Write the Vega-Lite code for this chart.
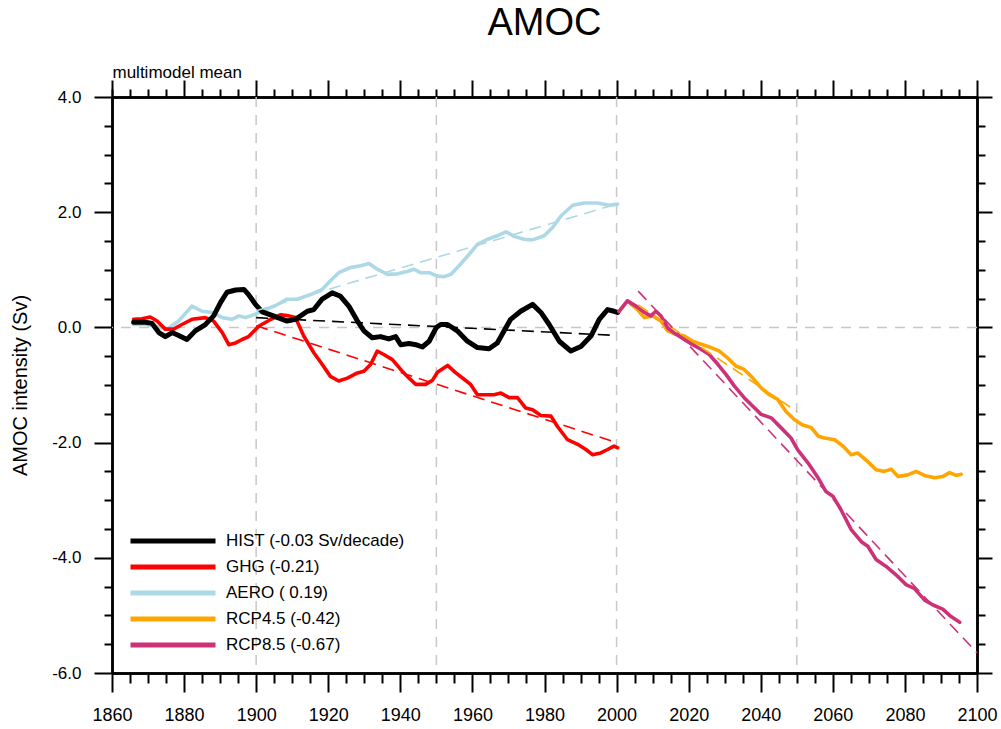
{
  "$schema": "https://vega.github.io/schema/vega-lite/v6.json",
  "autosize": {"type": "none"},
  "padding": {"left": 112, "top": 97, "right": 24, "bottom": 55},
  "width": 865,
  "height": 576,
  "background": "white",
  "title": {"text": "AMOC", "fontSize": 38, "font": "Liberation Sans", "fontWeight": "normal", "anchor": "middle", "frame": "group", "offset": 20, "color": "black"},
  "config": {
    "view": {"stroke": null},
    "axis": {"domainColor": "black", "domainWidth": 2.5, "tickColor": "black", "tickWidth": 2, "grid": false, "labelFont": "Liberation Sans", "titleFont": "Liberation Sans", "labelColor": "black", "titleColor": "black", "titleFontWeight": "normal"},
    "legend": {"padding": 0}
  },
  "datasets": {
    "grid_x": [{"year": 1900}, {"year": 1950}, {"year": 2000}, {"year": 2050}],
    "grid_y": [{"value": 0}],
    "hist": [
      {"series": "AERO ( 0.19)", "year": 1866, "value": 0.05},
      {"series": "AERO ( 0.19)", "year": 1869.3, "value": 0.05},
      {"series": "AERO ( 0.19)", "year": 1872, "value": 0.02},
      {"series": "AERO ( 0.19)", "year": 1875.3, "value": -0.03},
      {"series": "AERO ( 0.19)", "year": 1878.5, "value": 0.11},
      {"series": "AERO ( 0.19)", "year": 1882.2, "value": 0.37},
      {"series": "AERO ( 0.19)", "year": 1885, "value": 0.28},
      {"series": "AERO ( 0.19)", "year": 1887.8, "value": 0.26},
      {"series": "AERO ( 0.19)", "year": 1890.6, "value": 0.17},
      {"series": "AERO ( 0.19)", "year": 1893.3, "value": 0.14},
      {"series": "AERO ( 0.19)", "year": 1895.2, "value": 0.2},
      {"series": "AERO ( 0.19)", "year": 1897, "value": 0.17},
      {"series": "AERO ( 0.19)", "year": 1899.8, "value": 0.23},
      {"series": "AERO ( 0.19)", "year": 1902.6, "value": 0.31},
      {"series": "AERO ( 0.19)", "year": 1905.4, "value": 0.38},
      {"series": "AERO ( 0.19)", "year": 1908.6, "value": 0.49},
      {"series": "AERO ( 0.19)", "year": 1911.4, "value": 0.49},
      {"series": "AERO ( 0.19)", "year": 1915.1, "value": 0.57},
      {"series": "AERO ( 0.19)", "year": 1918.3, "value": 0.66},
      {"series": "AERO ( 0.19)", "year": 1920.6, "value": 0.81},
      {"series": "AERO ( 0.19)", "year": 1922.9, "value": 0.95},
      {"series": "AERO ( 0.19)", "year": 1926.2, "value": 1.04},
      {"series": "AERO ( 0.19)", "year": 1929, "value": 1.07},
      {"series": "AERO ( 0.19)", "year": 1931.3, "value": 1.11},
      {"series": "AERO ( 0.19)", "year": 1933.6, "value": 1.01},
      {"series": "AERO ( 0.19)", "year": 1936.4, "value": 0.92},
      {"series": "AERO ( 0.19)", "year": 1939.2, "value": 0.93},
      {"series": "AERO ( 0.19)", "year": 1941.9, "value": 0.97},
      {"series": "AERO ( 0.19)", "year": 1943.8, "value": 1.01},
      {"series": "AERO ( 0.19)", "year": 1945.6, "value": 0.95},
      {"series": "AERO ( 0.19)", "year": 1948, "value": 0.95},
      {"series": "AERO ( 0.19)", "year": 1950.3, "value": 0.89},
      {"series": "AERO ( 0.19)", "year": 1952.1, "value": 0.88},
      {"series": "AERO ( 0.19)", "year": 1954, "value": 0.92},
      {"series": "AERO ( 0.19)", "year": 1956.3, "value": 1.07},
      {"series": "AERO ( 0.19)", "year": 1959.1, "value": 1.27},
      {"series": "AERO ( 0.19)", "year": 1961.4, "value": 1.44},
      {"series": "AERO ( 0.19)", "year": 1964.2, "value": 1.53},
      {"series": "AERO ( 0.19)", "year": 1966.9, "value": 1.59},
      {"series": "AERO ( 0.19)", "year": 1969.3, "value": 1.66},
      {"series": "AERO ( 0.19)", "year": 1971.6, "value": 1.58},
      {"series": "AERO ( 0.19)", "year": 1974.3, "value": 1.53},
      {"series": "AERO ( 0.19)", "year": 1976.7, "value": 1.52},
      {"series": "AERO ( 0.19)", "year": 1979.9, "value": 1.59},
      {"series": "AERO ( 0.19)", "year": 1982.2, "value": 1.73},
      {"series": "AERO ( 0.19)", "year": 1984.5, "value": 1.93},
      {"series": "AERO ( 0.19)", "year": 1987.8, "value": 2.12},
      {"series": "AERO ( 0.19)", "year": 1991, "value": 2.16},
      {"series": "AERO ( 0.19)", "year": 1994.7, "value": 2.16},
      {"series": "AERO ( 0.19)", "year": 1997.9, "value": 2.12},
      {"series": "AERO ( 0.19)", "year": 2000.3, "value": 2.14},
      {"series": "GHG (-0.21)", "year": 1866, "value": 0.14},
      {"series": "GHG (-0.21)", "year": 1868.3, "value": 0.15},
      {"series": "GHG (-0.21)", "year": 1870.6, "value": 0.18},
      {"series": "GHG (-0.21)", "year": 1872.5, "value": 0.11},
      {"series": "GHG (-0.21)", "year": 1874.8, "value": -0.03},
      {"series": "GHG (-0.21)", "year": 1877.1, "value": -0.03},
      {"series": "GHG (-0.21)", "year": 1879.4, "value": 0.05},
      {"series": "GHG (-0.21)", "year": 1882.2, "value": 0.14},
      {"series": "GHG (-0.21)", "year": 1885.9, "value": 0.17},
      {"series": "GHG (-0.21)", "year": 1888.2, "value": 0.11},
      {"series": "GHG (-0.21)", "year": 1890.6, "value": -0.09},
      {"series": "GHG (-0.21)", "year": 1892.4, "value": -0.3},
      {"series": "GHG (-0.21)", "year": 1894.3, "value": -0.27},
      {"series": "GHG (-0.21)", "year": 1896.1, "value": -0.21},
      {"series": "GHG (-0.21)", "year": 1897.9, "value": -0.16},
      {"series": "GHG (-0.21)", "year": 1900.7, "value": 0.02},
      {"series": "GHG (-0.21)", "year": 1903.5, "value": 0.12},
      {"series": "GHG (-0.21)", "year": 1906.8, "value": 0.22},
      {"series": "GHG (-0.21)", "year": 1909.1, "value": 0.2},
      {"series": "GHG (-0.21)", "year": 1910.9, "value": 0.17},
      {"series": "GHG (-0.21)", "year": 1913.2, "value": -0.15},
      {"series": "GHG (-0.21)", "year": 1916, "value": -0.44},
      {"series": "GHG (-0.21)", "year": 1918.3, "value": -0.64},
      {"series": "GHG (-0.21)", "year": 1920.6, "value": -0.85},
      {"series": "GHG (-0.21)", "year": 1922.9, "value": -0.93},
      {"series": "GHG (-0.21)", "year": 1925.3, "value": -0.88},
      {"series": "GHG (-0.21)", "year": 1928.1, "value": -0.79},
      {"series": "GHG (-0.21)", "year": 1929.9, "value": -0.76},
      {"series": "GHG (-0.21)", "year": 1931.8, "value": -0.64},
      {"series": "GHG (-0.21)", "year": 1933.6, "value": -0.41},
      {"series": "GHG (-0.21)", "year": 1935.4, "value": -0.47},
      {"series": "GHG (-0.21)", "year": 1937.8, "value": -0.56},
      {"series": "GHG (-0.21)", "year": 1940.1, "value": -0.73},
      {"series": "GHG (-0.21)", "year": 1941.9, "value": -0.85},
      {"series": "GHG (-0.21)", "year": 1944.3, "value": -0.99},
      {"series": "GHG (-0.21)", "year": 1947, "value": -0.99},
      {"series": "GHG (-0.21)", "year": 1948.9, "value": -0.92},
      {"series": "GHG (-0.21)", "year": 1950.3, "value": -0.78},
      {"series": "GHG (-0.21)", "year": 1953.1, "value": -0.66},
      {"series": "GHG (-0.21)", "year": 1955.4, "value": -0.79},
      {"series": "GHG (-0.21)", "year": 1957.7, "value": -0.9},
      {"series": "GHG (-0.21)", "year": 1959.5, "value": -0.99},
      {"series": "GHG (-0.21)", "year": 1961.4, "value": -1.17},
      {"series": "GHG (-0.21)", "year": 1964.2, "value": -1.17},
      {"series": "GHG (-0.21)", "year": 1966, "value": -1.17},
      {"series": "GHG (-0.21)", "year": 1967.9, "value": -1.14},
      {"series": "GHG (-0.21)", "year": 1970.2, "value": -1.22},
      {"series": "GHG (-0.21)", "year": 1972.5, "value": -1.22},
      {"series": "GHG (-0.21)", "year": 1974.8, "value": -1.4},
      {"series": "GHG (-0.21)", "year": 1976.7, "value": -1.43},
      {"series": "GHG (-0.21)", "year": 1979, "value": -1.53},
      {"series": "GHG (-0.21)", "year": 1981.8, "value": -1.54},
      {"series": "GHG (-0.21)", "year": 1983.6, "value": -1.72},
      {"series": "GHG (-0.21)", "year": 1986.4, "value": -1.95},
      {"series": "GHG (-0.21)", "year": 1989.2, "value": -2.03},
      {"series": "GHG (-0.21)", "year": 1991.5, "value": -2.12},
      {"series": "GHG (-0.21)", "year": 1993.3, "value": -2.21},
      {"series": "GHG (-0.21)", "year": 1995.6, "value": -2.18},
      {"series": "GHG (-0.21)", "year": 1997.5, "value": -2.12},
      {"series": "GHG (-0.21)", "year": 1999.3, "value": -2.06},
      {"series": "GHG (-0.21)", "year": 2000.3, "value": -2.09},
      {"series": "HIST (-0.03 Sv/decade)", "year": 1866, "value": 0.09},
      {"series": "HIST (-0.03 Sv/decade)", "year": 1869.3, "value": 0.09},
      {"series": "HIST (-0.03 Sv/decade)", "year": 1871.1, "value": 0.07},
      {"series": "HIST (-0.03 Sv/decade)", "year": 1873, "value": -0.09},
      {"series": "HIST (-0.03 Sv/decade)", "year": 1874.8, "value": -0.16},
      {"series": "HIST (-0.03 Sv/decade)", "year": 1876.7, "value": -0.09},
      {"series": "HIST (-0.03 Sv/decade)", "year": 1878.5, "value": -0.14},
      {"series": "HIST (-0.03 Sv/decade)", "year": 1880.8, "value": -0.21},
      {"series": "HIST (-0.03 Sv/decade)", "year": 1883.1, "value": -0.06},
      {"series": "HIST (-0.03 Sv/decade)", "year": 1885.9, "value": 0.05},
      {"series": "HIST (-0.03 Sv/decade)", "year": 1888.2, "value": 0.2},
      {"series": "HIST (-0.03 Sv/decade)", "year": 1890.1, "value": 0.43},
      {"series": "HIST (-0.03 Sv/decade)", "year": 1891.9, "value": 0.61},
      {"series": "HIST (-0.03 Sv/decade)", "year": 1894.3, "value": 0.65},
      {"series": "HIST (-0.03 Sv/decade)", "year": 1896.6, "value": 0.66},
      {"series": "HIST (-0.03 Sv/decade)", "year": 1897.9, "value": 0.57},
      {"series": "HIST (-0.03 Sv/decade)", "year": 1899.8, "value": 0.4},
      {"series": "HIST (-0.03 Sv/decade)", "year": 1901.7, "value": 0.27},
      {"series": "HIST (-0.03 Sv/decade)", "year": 1904.4, "value": 0.21},
      {"series": "HIST (-0.03 Sv/decade)", "year": 1908.6, "value": 0.11},
      {"series": "HIST (-0.03 Sv/decade)", "year": 1910.9, "value": 0.14},
      {"series": "HIST (-0.03 Sv/decade)", "year": 1914.2, "value": 0.28},
      {"series": "HIST (-0.03 Sv/decade)", "year": 1916, "value": 0.31},
      {"series": "HIST (-0.03 Sv/decade)", "year": 1918.3, "value": 0.49},
      {"series": "HIST (-0.03 Sv/decade)", "year": 1921.1, "value": 0.6},
      {"series": "HIST (-0.03 Sv/decade)", "year": 1923.4, "value": 0.54},
      {"series": "HIST (-0.03 Sv/decade)", "year": 1925.7, "value": 0.37},
      {"series": "HIST (-0.03 Sv/decade)", "year": 1928.1, "value": 0.11},
      {"series": "HIST (-0.03 Sv/decade)", "year": 1929.9, "value": -0.06},
      {"series": "HIST (-0.03 Sv/decade)", "year": 1932.2, "value": -0.18},
      {"series": "HIST (-0.03 Sv/decade)", "year": 1934.5, "value": -0.16},
      {"series": "HIST (-0.03 Sv/decade)", "year": 1936.8, "value": -0.2},
      {"series": "HIST (-0.03 Sv/decade)", "year": 1938.7, "value": -0.16},
      {"series": "HIST (-0.03 Sv/decade)", "year": 1940.1, "value": -0.3},
      {"series": "HIST (-0.03 Sv/decade)", "year": 1942.4, "value": -0.28},
      {"series": "HIST (-0.03 Sv/decade)", "year": 1944.3, "value": -0.3},
      {"series": "HIST (-0.03 Sv/decade)", "year": 1946.1, "value": -0.34},
      {"series": "HIST (-0.03 Sv/decade)", "year": 1948, "value": -0.24},
      {"series": "HIST (-0.03 Sv/decade)", "year": 1950, "value": 0.0},
      {"series": "HIST (-0.03 Sv/decade)", "year": 1951.2, "value": 0.05},
      {"series": "HIST (-0.03 Sv/decade)", "year": 1953.1, "value": 0.05},
      {"series": "HIST (-0.03 Sv/decade)", "year": 1955.8, "value": -0.06},
      {"series": "HIST (-0.03 Sv/decade)", "year": 1958.6, "value": -0.24},
      {"series": "HIST (-0.03 Sv/decade)", "year": 1961.4, "value": -0.35},
      {"series": "HIST (-0.03 Sv/decade)", "year": 1964.6, "value": -0.37},
      {"series": "HIST (-0.03 Sv/decade)", "year": 1966.9, "value": -0.27},
      {"series": "HIST (-0.03 Sv/decade)", "year": 1968.8, "value": -0.06},
      {"series": "HIST (-0.03 Sv/decade)", "year": 1970.6, "value": 0.14},
      {"series": "HIST (-0.03 Sv/decade)", "year": 1973.4, "value": 0.28},
      {"series": "HIST (-0.03 Sv/decade)", "year": 1976.7, "value": 0.4},
      {"series": "HIST (-0.03 Sv/decade)", "year": 1979, "value": 0.26},
      {"series": "HIST (-0.03 Sv/decade)", "year": 1981.3, "value": 0.05},
      {"series": "HIST (-0.03 Sv/decade)", "year": 1984.1, "value": -0.24},
      {"series": "HIST (-0.03 Sv/decade)", "year": 1987.3, "value": -0.41},
      {"series": "HIST (-0.03 Sv/decade)", "year": 1990.1, "value": -0.33},
      {"series": "HIST (-0.03 Sv/decade)", "year": 1992.9, "value": -0.15},
      {"series": "HIST (-0.03 Sv/decade)", "year": 1995.2, "value": 0.14},
      {"series": "HIST (-0.03 Sv/decade)", "year": 1997.5, "value": 0.31},
      {"series": "HIST (-0.03 Sv/decade)", "year": 1999.3, "value": 0.28},
      {"series": "HIST (-0.03 Sv/decade)", "year": 2000.3, "value": 0.26}
    ],
    "rcp": [
      {"series": "RCP4.5 (-0.42)", "year": 2000.7, "value": 0.28},
      {"series": "RCP4.5 (-0.42)", "year": 2003, "value": 0.46},
      {"series": "RCP4.5 (-0.42)", "year": 2005.8, "value": 0.31},
      {"series": "RCP4.5 (-0.42)", "year": 2007.7, "value": 0.17},
      {"series": "RCP4.5 (-0.42)", "year": 2010, "value": 0.2},
      {"series": "RCP4.5 (-0.42)", "year": 2012.3, "value": 0.11},
      {"series": "RCP4.5 (-0.42)", "year": 2014.2, "value": -0.06},
      {"series": "RCP4.5 (-0.42)", "year": 2016.5, "value": -0.12},
      {"series": "RCP4.5 (-0.42)", "year": 2018.8, "value": -0.15},
      {"series": "RCP4.5 (-0.42)", "year": 2021.1, "value": -0.24},
      {"series": "RCP4.5 (-0.42)", "year": 2023.9, "value": -0.3},
      {"series": "RCP4.5 (-0.42)", "year": 2026.2, "value": -0.35},
      {"series": "RCP4.5 (-0.42)", "year": 2028.5, "value": -0.41},
      {"series": "RCP4.5 (-0.42)", "year": 2030.8, "value": -0.53},
      {"series": "RCP4.5 (-0.42)", "year": 2033.1, "value": -0.67},
      {"series": "RCP4.5 (-0.42)", "year": 2035.4, "value": -0.73},
      {"series": "RCP4.5 (-0.42)", "year": 2037.8, "value": -0.88},
      {"series": "RCP4.5 (-0.42)", "year": 2040.1, "value": -1.05},
      {"series": "RCP4.5 (-0.42)", "year": 2042.4, "value": -1.17},
      {"series": "RCP4.5 (-0.42)", "year": 2044.7, "value": -1.25},
      {"series": "RCP4.5 (-0.42)", "year": 2047, "value": -1.46},
      {"series": "RCP4.5 (-0.42)", "year": 2049.3, "value": -1.6},
      {"series": "RCP4.5 (-0.42)", "year": 2051.5, "value": -1.69},
      {"series": "RCP4.5 (-0.42)", "year": 2054, "value": -1.74},
      {"series": "RCP4.5 (-0.42)", "year": 2056, "value": -1.89},
      {"series": "RCP4.5 (-0.42)", "year": 2057.7, "value": -1.92},
      {"series": "RCP4.5 (-0.42)", "year": 2060.5, "value": -1.95},
      {"series": "RCP4.5 (-0.42)", "year": 2062.8, "value": -2.06},
      {"series": "RCP4.5 (-0.42)", "year": 2065.1, "value": -2.21},
      {"series": "RCP4.5 (-0.42)", "year": 2066.9, "value": -2.18},
      {"series": "RCP4.5 (-0.42)", "year": 2069.7, "value": -2.33},
      {"series": "RCP4.5 (-0.42)", "year": 2072, "value": -2.47},
      {"series": "RCP4.5 (-0.42)", "year": 2074.3, "value": -2.5},
      {"series": "RCP4.5 (-0.42)", "year": 2076.2, "value": -2.46},
      {"series": "RCP4.5 (-0.42)", "year": 2078.1, "value": -2.59},
      {"series": "RCP4.5 (-0.42)", "year": 2080.8, "value": -2.56},
      {"series": "RCP4.5 (-0.42)", "year": 2083.1, "value": -2.5},
      {"series": "RCP4.5 (-0.42)", "year": 2085.4, "value": -2.57},
      {"series": "RCP4.5 (-0.42)", "year": 2088.2, "value": -2.61},
      {"series": "RCP4.5 (-0.42)", "year": 2090.5, "value": -2.59},
      {"series": "RCP4.5 (-0.42)", "year": 2092.4, "value": -2.52},
      {"series": "RCP4.5 (-0.42)", "year": 2094.2, "value": -2.57},
      {"series": "RCP4.5 (-0.42)", "year": 2095.6, "value": -2.55},
      {"series": "RCP8.5 (-0.67)", "year": 2000.7, "value": 0.28},
      {"series": "RCP8.5 (-0.67)", "year": 2003, "value": 0.46},
      {"series": "RCP8.5 (-0.67)", "year": 2005.4, "value": 0.37},
      {"series": "RCP8.5 (-0.67)", "year": 2007.7, "value": 0.26},
      {"series": "RCP8.5 (-0.67)", "year": 2009.5, "value": 0.2},
      {"series": "RCP8.5 (-0.67)", "year": 2010.9, "value": 0.28},
      {"series": "RCP8.5 (-0.67)", "year": 2012.3, "value": 0.2},
      {"series": "RCP8.5 (-0.67)", "year": 2014.2, "value": -0.01},
      {"series": "RCP8.5 (-0.67)", "year": 2016.5, "value": -0.12},
      {"series": "RCP8.5 (-0.67)", "year": 2018.8, "value": -0.21},
      {"series": "RCP8.5 (-0.67)", "year": 2021.1, "value": -0.3},
      {"series": "RCP8.5 (-0.67)", "year": 2023.4, "value": -0.38},
      {"series": "RCP8.5 (-0.67)", "year": 2025.7, "value": -0.47},
      {"series": "RCP8.5 (-0.67)", "year": 2028.1, "value": -0.64},
      {"series": "RCP8.5 (-0.67)", "year": 2030.4, "value": -0.82},
      {"series": "RCP8.5 (-0.67)", "year": 2032.7, "value": -1.02},
      {"series": "RCP8.5 (-0.67)", "year": 2035.4, "value": -1.22},
      {"series": "RCP8.5 (-0.67)", "year": 2037.8, "value": -1.37},
      {"series": "RCP8.5 (-0.67)", "year": 2040.1, "value": -1.51},
      {"series": "RCP8.5 (-0.67)", "year": 2042.9, "value": -1.57},
      {"series": "RCP8.5 (-0.67)", "year": 2045.6, "value": -1.74},
      {"series": "RCP8.5 (-0.67)", "year": 2048.4, "value": -1.92},
      {"series": "RCP8.5 (-0.67)", "year": 2050.3, "value": -2.13},
      {"series": "RCP8.5 (-0.67)", "year": 2053.1, "value": -2.35},
      {"series": "RCP8.5 (-0.67)", "year": 2055.8, "value": -2.6},
      {"series": "RCP8.5 (-0.67)", "year": 2058.1, "value": -2.85},
      {"series": "RCP8.5 (-0.67)", "year": 2060, "value": -2.93},
      {"series": "RCP8.5 (-0.67)", "year": 2062.3, "value": -3.17},
      {"series": "RCP8.5 (-0.67)", "year": 2065.1, "value": -3.51},
      {"series": "RCP8.5 (-0.67)", "year": 2067.9, "value": -3.72},
      {"series": "RCP8.5 (-0.67)", "year": 2069.7, "value": -3.8},
      {"series": "RCP8.5 (-0.67)", "year": 2072, "value": -4.03},
      {"series": "RCP8.5 (-0.67)", "year": 2074.8, "value": -4.15},
      {"series": "RCP8.5 (-0.67)", "year": 2077.6, "value": -4.3},
      {"series": "RCP8.5 (-0.67)", "year": 2080.4, "value": -4.47},
      {"series": "RCP8.5 (-0.67)", "year": 2082.6, "value": -4.53},
      {"series": "RCP8.5 (-0.67)", "year": 2085.4, "value": -4.73},
      {"series": "RCP8.5 (-0.67)", "year": 2087.8, "value": -4.82},
      {"series": "RCP8.5 (-0.67)", "year": 2090.5, "value": -4.89},
      {"series": "RCP8.5 (-0.67)", "year": 2092.8, "value": -5.02},
      {"series": "RCP8.5 (-0.67)", "year": 2095.2, "value": -5.12}
    ],
    "trends": [
      {"series": "HIST (-0.03 Sv/decade)", "year": 1900, "value": 0.17},
      {"series": "HIST (-0.03 Sv/decade)", "year": 2000, "value": -0.14},
      {"series": "GHG (-0.21)", "year": 1900, "value": 0.03},
      {"series": "GHG (-0.21)", "year": 2000, "value": -2.0},
      {"series": "AERO ( 0.19)", "year": 1900, "value": 0.29},
      {"series": "AERO ( 0.19)", "year": 2000, "value": 2.14},
      {"series": "RCP4.5 (-0.42)", "year": 2006, "value": 0.39},
      {"series": "RCP4.5 (-0.42)", "year": 2050, "value": -1.46},
      {"series": "RCP8.5 (-0.67)", "year": 2006, "value": 0.63},
      {"series": "RCP8.5 (-0.67)", "year": 2100, "value": -5.65}
    ]
  },
  "resolve": {"axis": {"x": "independent", "y": "independent"}},
  "layer": [
    {
      "data": {"name": "grid_x"},
      "mark": {"type": "rule", "color": "#c8c8c8", "strokeWidth": 1.5, "strokeDash": [10, 8]},
      "encoding": {
        "x": {"field": "year", "type": "quantitative", "scale": {"domain": [1860, 2100], "nice": false, "zero": false},
          "axis": {"orient": "bottom", "values": [1860, 1880, 1900, 1920, 1940, 1960, 1980, 2000, 2020, 2040, 2060, 2080, 2100], "format": "d", "tickSize": 19, "labelFontSize": 18, "labelPadding": 14, "labelFlush": false, "labelOverlap": false, "title": null}}
      }
    },
    {
      "data": {"name": "grid_y"},
      "mark": {"type": "rule", "color": "#c8c8c8", "strokeWidth": 1.5, "strokeDash": [10, 8]},
      "encoding": {
        "y": {"field": "value", "type": "quantitative", "scale": {"domain": [-6, 4], "nice": false, "zero": false},
          "axis": {"orient": "left", "values": [-6, -4, -2, 0, 2, 4], "labelExpr": "(datum.value < 0 ? '-' : '') + format(abs(datum.value), '.1f')", "tickSize": 18, "labelFontSize": 17, "labelPadding": 13, "labelFlush": false, "labelOverlap": false,
            "title": "AMOC intensity (Sv)", "titleFontSize": 20, "titleX": -92, "titleY": 288, "titleBaseline": "middle", "titleAlign": "center", "titleAngle": -90}}
      }
    },
    {
      "data": {"name": "hist"},
      "mark": {"type": "line", "strokeCap": "round", "strokeJoin": "round"},
      "encoding": {
        "x": {"field": "year", "type": "quantitative",
          "axis": {"orient": "top", "values": [1860, 1880, 1900, 1920, 1940, 1960, 1980, 2000, 2020, 2040, 2060, 2080, 2100], "tickSize": 17, "labels": false,
            "title": "multimodel mean", "titleFontSize": 17, "titleX": 0, "titleY": -20, "titleAlign": "left", "titleBaseline": "alphabetic", "titleAnchor": "start"}},
        "y": {"field": "value", "type": "quantitative",
          "axis": {"orient": "right", "values": [-6, -4, -2, 0, 2, 4], "tickSize": 15, "labels": false, "title": null}},
        "color": {"field": "series", "type": "nominal",
          "scale": {"domain": ["HIST (-0.03 Sv/decade)", "GHG (-0.21)", "AERO ( 0.19)", "RCP4.5 (-0.42)", "RCP8.5 (-0.67)"], "range": ["#000000", "#ff0000", "#add8e6", "#ffa500", "#cd3278"]},
          "legend": {"orient": "none", "legendX": 16, "legendY": 434, "title": null, "symbolType": "stroke", "symbolSize": 7225, "symbolStrokeWidth": 5, "clipHeight": 20, "rowPadding": 6, "labelFontSize": 17, "labelFont": "Liberation Sans", "labelColor": "black", "labelOffset": 8, "labelLimit": 400}},
        "strokeWidth": {"condition": {"test": "datum.series === 'HIST (-0.03 Sv/decade)'", "value": 5}, "value": 3.6}
      }
    },
    {
      "data": {"name": "rcp"},
      "mark": {"type": "line", "strokeCap": "round", "strokeJoin": "round", "strokeWidth": 3.6},
      "encoding": {
        "x": {"field": "year", "type": "quantitative",
          "axis": {"orient": "top", "values": [1860, 1865, 1870, 1875, 1885, 1890, 1895, 1905, 1910, 1915, 1925, 1930, 1935, 1945, 1950, 1955, 1965, 1970, 1975, 1985, 1990, 1995, 2005, 2010, 2015, 2025, 2030, 2035, 2045, 2050, 2055, 2065, 2070, 2075, 2085, 2090, 2095], "tickSize": 8, "labels": false, "title": null}},
        "y": {"field": "value", "type": "quantitative",
          "axis": {"orient": "right", "values": [-5.5, -5, -4.5, -3.5, -3, -2.5, -1.5, -1, -0.5, 0.5, 1, 1.5, 2.5, 3, 3.5], "tickSize": 8, "labels": false, "title": null}},
        "color": {"field": "series", "type": "nominal",
          "scale": {"domain": ["HIST (-0.03 Sv/decade)", "GHG (-0.21)", "AERO ( 0.19)", "RCP4.5 (-0.42)", "RCP8.5 (-0.67)"], "range": ["#000000", "#ff0000", "#add8e6", "#ffa500", "#cd3278"]},
          "legend": {"orient": "none", "legendX": 16, "legendY": 434, "title": null, "symbolType": "stroke", "symbolSize": 7225, "symbolStrokeWidth": 5, "clipHeight": 20, "rowPadding": 6, "labelFontSize": 17, "labelFont": "Liberation Sans", "labelColor": "black", "labelOffset": 8, "labelLimit": 400}}
      }
    },
    {
      "data": {"name": "trends"},
      "mark": {"type": "line", "strokeWidth": 1.6, "strokeDash": [12, 7]},
      "encoding": {
        "x": {"field": "year", "type": "quantitative",
          "axis": {"orient": "bottom", "values": [1865, 1870, 1875, 1885, 1890, 1895, 1905, 1910, 1915, 1925, 1930, 1935, 1945, 1950, 1955, 1965, 1970, 1975, 1985, 1990, 1995, 2005, 2010, 2015, 2025, 2030, 2035, 2045, 2050, 2055, 2065, 2070, 2075, 2085, 2090, 2095], "tickSize": 10, "labels": false, "title": null}},
        "y": {"field": "value", "type": "quantitative",
          "axis": {"orient": "left", "values": [-5.5, -5, -4.5, -3.5, -3, -2.5, -1.5, -1, -0.5, 0.5, 1, 1.5, 2.5, 3, 3.5], "tickSize": 8, "labels": false, "title": null}},
        "stroke": {"field": "series", "type": "nominal",
          "scale": {"domain": ["HIST (-0.03 Sv/decade)", "GHG (-0.21)", "AERO ( 0.19)", "RCP4.5 (-0.42)", "RCP8.5 (-0.67)"], "range": ["#000000", "#ff0000", "#add8e6", "#ffa500", "#cd3278"]},
          "legend": null}
      }
    }
  ]
}
